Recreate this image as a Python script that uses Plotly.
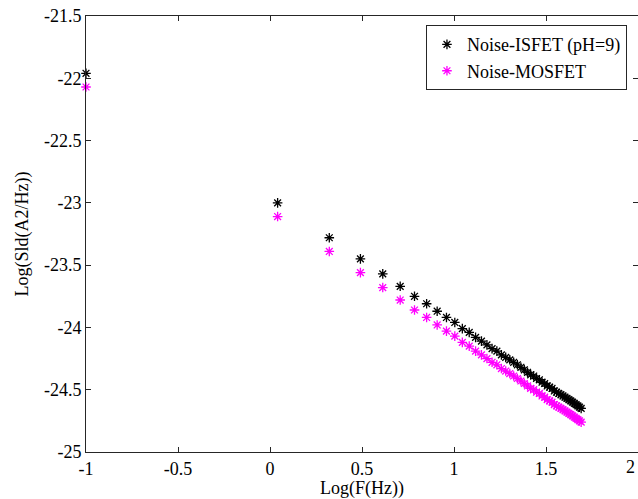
import numpy as np
import plotly.graph_objects as go

freq_hz = [0.1, 1.1, 2.1, 3.1, 4.1, 5.1, 6.1, 7.1, 8.1, 9.1,
           10.1, 11.1, 12.1, 13.1, 14.1, 15.1, 16.1, 17.1, 18.1, 19.1,
           20.1, 21.1, 22.1, 23.1, 24.1, 25.1, 26.1, 27.1, 28.1, 29.1,
           30.1, 31.1, 32.1, 33.1, 34.1, 35.1, 36.1, 37.1, 38.1, 39.1,
           40.1, 41.1, 42.1, 43.1, 44.1, 45.1, 46.1, 47.1, 48.1, 49.1]

isfet = [-21.96, -23.00, -23.28, -23.45, -23.57, -23.67, -23.75, -23.81, -23.87, -23.92,
         -23.96, -24.01, -24.04, -24.08, -24.11, -24.14, -24.17, -24.19, -24.22, -24.24,
         -24.26, -24.28, -24.30, -24.32, -24.34, -24.36, -24.38, -24.39, -24.41, -24.42,
         -24.44, -24.45, -24.47, -24.48, -24.49, -24.51, -24.52, -24.53, -24.54, -24.55,
         -24.56, -24.57, -24.58, -24.59, -24.60, -24.61, -24.62, -24.63, -24.64, -24.65]

mosfet = [-22.07, -23.11, -23.39, -23.56, -23.68, -23.78, -23.86, -23.92, -23.98, -24.03,
          -24.07, -24.12, -24.15, -24.19, -24.22, -24.25, -24.28, -24.30, -24.33, -24.35,
          -24.37, -24.39, -24.41, -24.43, -24.45, -24.47, -24.49, -24.50, -24.52, -24.53,
          -24.55, -24.56, -24.58, -24.59, -24.60, -24.62, -24.63, -24.64, -24.65, -24.66,
          -24.67, -24.68, -24.69, -24.70, -24.71, -24.72, -24.73, -24.74, -24.75, -24.76]

x_ticks = [-1, -0.5, 0, 0.5, 1, 1.5, 2]
x_tick_labels = ["-1", "-0.5", "0", "0.5", "1", "1.5", "2"]
y_ticks = [-25, -24.5, -24, -23.5, -23, -22.5, -22, -21.5]
y_tick_labels = ["-25", "-24.5", "-24", "-23.5", "-23", "-22.5", "-22", "-21.5"]

x_log = np.log10(np.array(freq_hz))

FONT = "Liberation Serif, Times New Roman, serif"
FS = 18

fig = go.Figure()
fig.add_trace(go.Scatter(
    x=x_log, y=isfet, mode="markers", name="Noise-ISFET (pH=9)",
    marker=dict(symbol="asterisk-open", size=8, color="black",
                line=dict(color="black", width=1.3)),
    cliponaxis=False,
))
fig.add_trace(go.Scatter(
    x=x_log, y=mosfet, mode="markers", name="Noise-MOSFET",
    marker=dict(symbol="asterisk-open", size=8, color="#ff00ff",
                line=dict(color="#ff00ff", width=1.3)),
    cliponaxis=False,
))

axis_common = dict(
    showline=True, linecolor="#262626", linewidth=1, mirror="ticks",
    ticks="inside", ticklen=5, tickcolor="#262626", tickwidth=1,
    showgrid=False, zeroline=False,
    tickfont=dict(family=FONT, size=FS, color="black"),
)

fig.update_layout(
    width=638, height=499,
    margin=dict(l=86, r=0, t=16, b=47),
    paper_bgcolor="white", plot_bgcolor="white",
    font=dict(family=FONT, size=FS, color="black"),
    showlegend=True,
    legend=dict(x=0.98, y=0.979, xanchor="right", yanchor="top",
                bordercolor="#262626", borderwidth=1, bgcolor="white",
                font=dict(family=FONT, size=FS, color="black"),
                itemwidth=30, tracegroupgap=0),
    xaxis=dict(range=[-1, 2], tickvals=x_ticks, ticktext=x_tick_labels,
               title=dict(text="Log(F(Hz))", standoff=0,
                          font=dict(family=FONT, size=FS)),
               **axis_common),
    yaxis=dict(range=[-25, -21.5], tickvals=y_ticks, ticktext=y_tick_labels,
               title=dict(text="Log(Sld(A2/Hz))", standoff=10,
                          font=dict(family=FONT, size=FS)),
               **axis_common),
)

# tick label at x=2 sits on the canvas edge; keep it just inside the page
fig.add_annotation(x=x_ticks[-1], y=0, xref="x", yref="paper", text=x_tick_labels[-1],
                   showarrow=False, yanchor="top", xanchor="right", yshift=-3, xshift=-1,
                   font=dict(family=FONT, size=FS, color="black"))

fig.write_html("out.html")
